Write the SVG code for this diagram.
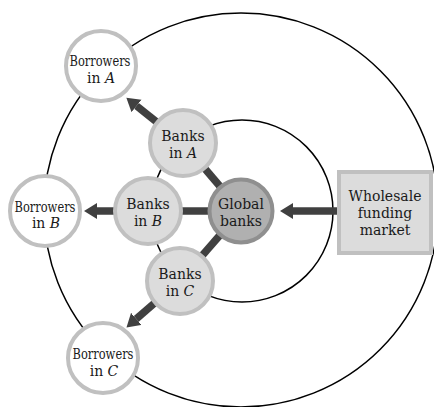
<svg xmlns="http://www.w3.org/2000/svg" width="434" height="407" viewBox="0 0 434 407">
<style>
.ring{fill:none;stroke:#000;stroke-width:1.5}
.bank{fill:#dcdcdc;stroke:#c0c0c0;stroke-width:4}
.glob{fill:#b0b0b0;stroke:#8f8f8f;stroke-width:4}
.borr{fill:#fff;stroke:#c0c0c0;stroke-width:4}
.box{fill:#dcdcdc;stroke:#c0c0c0;stroke-width:4}
.link{stroke:#404040;stroke-width:7.5;fill:none}
text{font-family:"DejaVu Serif","Liberation Serif",serif;font-size:14px;fill:#1a1a1a;text-anchor:middle}
.sm{font-size:14px}
</style>
<defs>
<marker id="ah" markerUnits="userSpaceOnUse" markerWidth="14" markerHeight="18" refX="0" refY="8" orient="auto">
<path d="M0,0 L13,8 L0,16 z" fill="#404040"/>
</marker>
</defs>
<g id="rings">
<circle class="ring" cx="241" cy="210" r="197"/>
<circle class="ring" cx="242" cy="211" r="91"/>
</g>
<g id="connectors">
<line class="link" x1="241" y1="211" x2="183" y2="143"/>
<line class="link" x1="241" y1="211" x2="148" y2="211"/>
<line class="link" x1="241" y1="211" x2="180" y2="281"/>
<line class="link" x1="183" y1="143" x2="136.5" y2="105.9" marker-end="url(#ah)"/>
<line class="link" x1="148" y1="211" x2="97" y2="211" marker-end="url(#ah)"/>
<line class="link" x1="180" y1="281" x2="136.3" y2="318.9" marker-end="url(#ah)"/>
<line class="link" x1="337" y1="211" x2="293" y2="211" marker-end="url(#ah)"/>
</g>
<g id="borrowers-a">
<circle class="borr" cx="101" cy="66" r="35"/>
<text class="sm" x="100" y="66" textLength="61" lengthAdjust="spacingAndGlyphs">Borrowers</text>
<text x="101" y="83">in <tspan font-style="italic">A</tspan></text>
</g>
<g id="borrowers-b">
<circle class="borr" cx="45" cy="211" r="35"/>
<text class="sm" x="45" y="212" textLength="61" lengthAdjust="spacingAndGlyphs">Borrowers</text>
<text x="46" y="228">in <tspan font-style="italic">B</tspan></text>
</g>
<g id="borrowers-c">
<circle class="borr" cx="103" cy="358" r="35"/>
<text class="sm" x="103" y="359" textLength="61" lengthAdjust="spacingAndGlyphs">Borrowers</text>
<text x="104" y="376">in <tspan font-style="italic">C</tspan></text>
</g>
<g id="banks-a">
<circle class="bank" cx="183" cy="143" r="33"/>
<text x="183" y="141">Banks</text>
<text x="183" y="158">in <tspan font-style="italic">A</tspan></text>
</g>
<g id="banks-b">
<circle class="bank" cx="148" cy="211" r="33"/>
<text x="148" y="209">Banks</text>
<text x="148" y="226">in <tspan font-style="italic">B</tspan></text>
</g>
<g id="banks-c">
<circle class="bank" cx="180" cy="281" r="33"/>
<text x="180" y="279">Banks</text>
<text x="180" y="296">in <tspan font-style="italic">C</tspan></text>
</g>
<g id="global-banks">
<circle class="glob" cx="241" cy="211" r="31.5"/>
<text x="241" y="209">Global</text>
<text x="241" y="226">banks</text>
</g>
<g id="wholesale">
<rect class="box" x="339" y="172" width="92" height="81"/>
<text x="385" y="201">Wholesale</text>
<text x="385" y="218">funding</text>
<text x="385" y="235">market</text>
</g>
</svg>
